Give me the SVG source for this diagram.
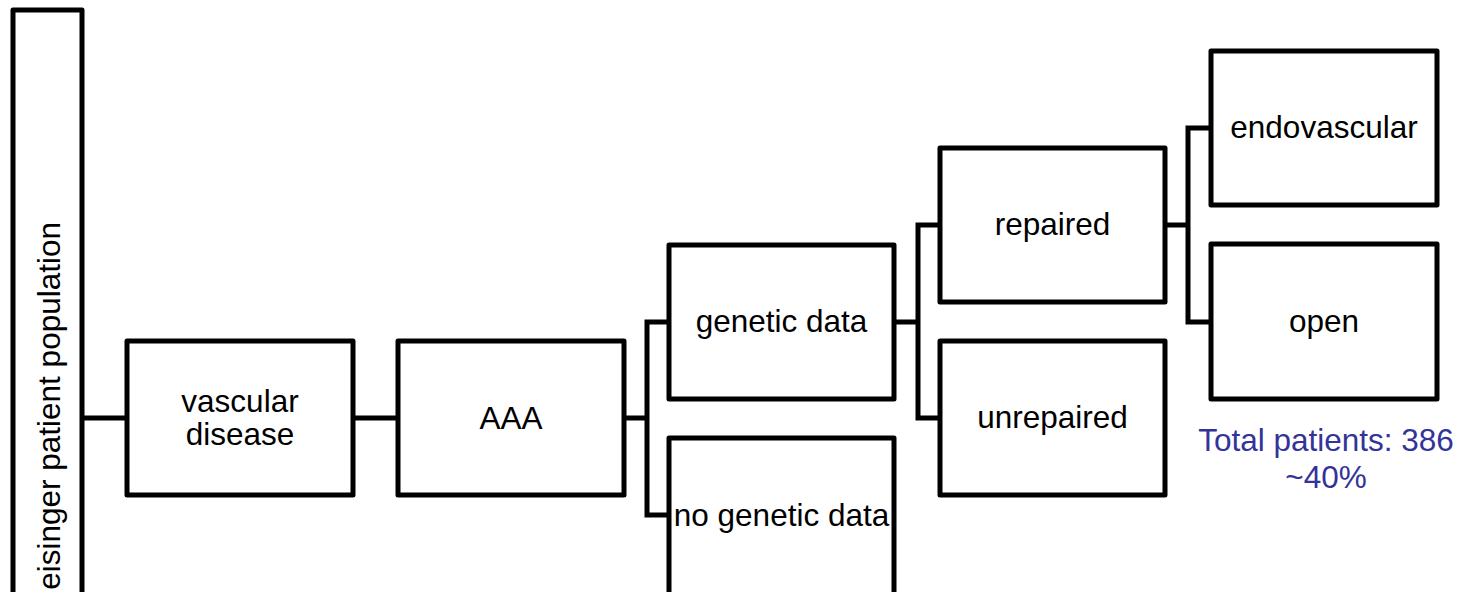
<svg xmlns="http://www.w3.org/2000/svg" width="1459" height="592" viewBox="0 0 1459 592">
<style>
.box{fill:#fff;stroke:#000;stroke-width:5;stroke-linejoin:round}
.conn{fill:none;stroke:#000;stroke-width:5;stroke-linejoin:miter}
.t{font-family:"Liberation Sans",Arial,sans-serif;font-size:31.5px;fill:#000;text-anchor:middle}
.note{font-family:"Liberation Sans",Arial,sans-serif;font-size:31.5px;fill:#333399;text-anchor:middle}
</style>
<rect width="1459" height="592" fill="#fff"/>
<g id="connectors">
<path class="conn" d="M82 418H127"/>
<path class="conn" d="M353 418H398"/>
<path class="conn" d="M624 418H647M669 322H647V515H669"/>
<path class="conn" d="M894 322H918M940 225H918V418H940"/>
<path class="conn" d="M1165 225H1188M1211 128H1188V322H1211"/>
</g>
<g id="population">
<rect class="box" x="13" y="10" width="69" height="640"/>
<text class="t" style="text-anchor:end" transform="translate(60 222) rotate(-90)">eisinger patient population</text>
</g>
<g id="vascular">
<rect class="box" x="127" y="341" width="226" height="154"/>
<text class="t" x="240" y="412">vascular</text>
<text class="t" x="240" y="445">disease</text>
</g>
<g id="aaa">
<rect class="box" x="398" y="341" width="226" height="154"/>
<text class="t" x="511" y="429">AAA</text>
</g>
<g id="genetic">
<rect class="box" x="669" y="245" width="225" height="154"/>
<text class="t" x="781.5" y="332">genetic data</text>
</g>
<g id="nogenetic">
<rect class="box" x="669" y="438" width="225" height="170"/>
<text class="t" x="781.5" y="526">no genetic data</text>
</g>
<g id="repaired">
<rect class="box" x="940" y="148" width="225" height="154"/>
<text class="t" x="1052.5" y="235">repaired</text>
</g>
<g id="unrepaired">
<rect class="box" x="940" y="341" width="225" height="154"/>
<text class="t" x="1052.5" y="428">unrepaired</text>
</g>
<g id="endovascular">
<rect class="box" x="1211" y="51" width="226" height="154"/>
<text class="t" x="1324" y="138">endovascular</text>
</g>
<g id="open">
<rect class="box" x="1211" y="244" width="226" height="155"/>
<text class="t" x="1324" y="332">open</text>
</g>
<g id="total">
<text class="note" x="1326" y="451">Total patients: 386</text>
<text class="note" x="1326" y="488">~40%</text>
</g>
</svg>
